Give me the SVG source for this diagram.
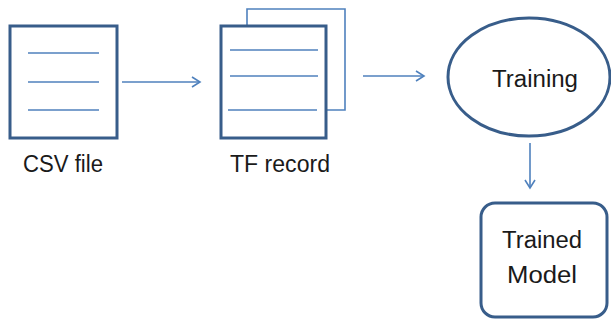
<svg xmlns="http://www.w3.org/2000/svg" width="611" height="320" viewBox="0 0 611 320">
<style>
.box{fill:#fff;stroke:#385d8a;stroke-width:3}
.thin{fill:none;stroke:#4f81bd;stroke-width:1.6}
.conn{fill:none;stroke:#4f81bd;stroke-width:1.6}
text{font-family:"Liberation Sans",Arial,sans-serif;fill:#1a1a1a;text-anchor:middle;font-size:23px}
</style>
<defs>
<marker id="ah" markerWidth="12" markerHeight="12" refX="9" refY="6" orient="auto" markerUnits="userSpaceOnUse">
<path d="M1,1 L9,6 L1,11" fill="none" stroke="#4f81bd" stroke-width="1.6"/>
</marker>
</defs>
<rect width="611" height="320" fill="#fff"/>
<g id="csv">
<rect class="box" x="10" y="26" width="107" height="112"/>
<line class="thin" x1="28" y1="53" x2="99" y2="53"/>
<line class="thin" x1="28" y1="82" x2="99" y2="82"/>
<line class="thin" x1="28" y1="110" x2="99" y2="110"/>
<text x="63" y="172" textLength="80" lengthAdjust="spacingAndGlyphs">CSV file</text>
</g>
<g id="tfrecord">
<polyline class="thin" points="247,25 247,9 345,9 345,110 327,110"/>
<rect class="box" x="221" y="26" width="105" height="112"/>
<line class="thin" x1="230" y1="50" x2="318" y2="50"/>
<line class="thin" x1="230" y1="76" x2="318" y2="76"/>
<line class="thin" x1="228" y1="110" x2="317" y2="110"/>
<text x="280" y="172" textLength="100" lengthAdjust="spacingAndGlyphs">TF record</text>
</g>
<g id="training">
<ellipse class="box" cx="529" cy="77" rx="81" ry="59"/>
<text x="535" y="87" textLength="86" lengthAdjust="spacingAndGlyphs">Training</text>
</g>
<g id="model">
<rect class="box" x="481" y="203" width="126" height="114" rx="14"/>
<text x="542" y="248" textLength="80" lengthAdjust="spacingAndGlyphs">Trained</text>
<text x="542" y="283" textLength="70" lengthAdjust="spacingAndGlyphs">Model</text>
</g>
<g id="connectors">
<line class="conn" x1="122" y1="82" x2="200" y2="82" marker-end="url(#ah)"/>
<line class="conn" x1="363" y1="76" x2="424" y2="76" marker-end="url(#ah)"/>
<line class="conn" x1="530" y1="143" x2="530" y2="188" marker-end="url(#ah)"/>
</g>
</svg>
